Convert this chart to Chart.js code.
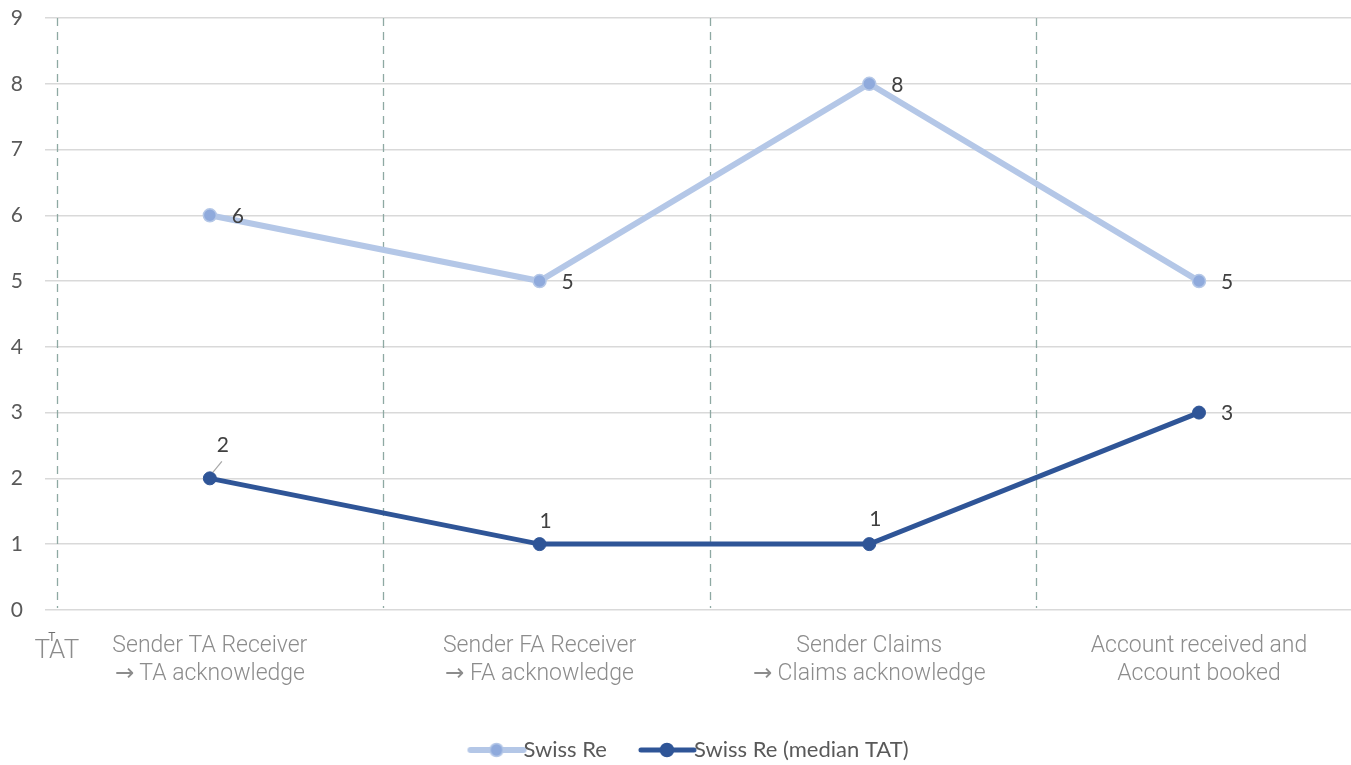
<!DOCTYPE html>
<html>
<head>
<meta charset="utf-8">
<script src="https://cdn.jsdelivr.net/npm/chart.js@4/dist/chart.umd.min.js"></script>
<style>
  @font-face { font-family: "ArrowFace"; src: local("DejaVu Sans"); unicode-range: U+2192; }
  html, body { margin: 0; padding: 0; background: #ffffff; }
  #wrap { width: 1351px; height: 765px; position: relative; }
</style>
</head>
<body>
<div id="wrap"><canvas id="c" width="1351" height="765"></canvas></div>
<script>
// ---- data ----
const categories = [
  ["Sender TA Receiver", "\u2192 TA acknowledge"],
  ["Sender FA Receiver", "\u2192 FA acknowledge"],
  ["Sender Claims", "\u2192 Claims acknowledge"],
  ["Account received and", "Account booked"]
];
const swissRe = [6, 5, 8, 5];
const swissReMedian = [2, 1, 1, 3];
const seriesNames = ["Swiss Re", "Swiss Re (median TAT)"];
const yTicks = [0, 1, 2, 3, 4, 5, 6, 7, 8, 9];
const dividerPositions = [-0.464, 0.525, 1.517, 2.506];
const cornerLabel = "TAT";

// ---- style ----
const lightLine = "#b4c7e7", lightPoint = "#8faadc";
const darkLine = "#2f5597";
const labelOffsets = [
  [[22, 0], [22, 0], [22, 0], [22, 0]],
  [[13, -34], [6, -24], [6, -26], [22, 0]]
];
const legendShift = { x: 11, y: 1 };

function legendIcon(lineColor, pointColor, borderColor, lw) {
  const c = document.createElement("canvas");
  c.width = 80; c.height = 16;
  const ctx = c.getContext("2d");
  ctx.strokeStyle = lineColor; ctx.lineWidth = lw; ctx.lineCap = "round";
  ctx.beginPath(); ctx.moveTo(22, 8); ctx.lineTo(75, 8); ctx.stroke();
  ctx.beginPath(); ctx.arc(48, 8, 6.5, 0, Math.PI * 2);
  ctx.fillStyle = pointColor; ctx.fill();
  ctx.lineWidth = 1.5; ctx.strokeStyle = borderColor; ctx.stroke();
  return c;
}

const decorPlugin = {
  id: "decor",
  afterLayout(chart) {
    const lg = chart.legend;
    if (lg) {
      lg.left += legendShift.x; lg.right += legendShift.x;
      lg.top += legendShift.y; lg.bottom += legendShift.y;
    }
  },
  beforeDatasetsDraw(chart) {
    const {ctx, chartArea, scales} = chart;
    ctx.save();
    ctx.strokeStyle = "#8ea9a3";
    ctx.lineWidth = 1.3;
    ctx.setLineDash([8, 6]);
    dividerPositions.forEach(v => {
      const x = Math.round(scales.x.getPixelForValue(v)) + 0.5;
      ctx.beginPath(); ctx.moveTo(x, chartArea.top); ctx.lineTo(x, chartArea.bottom - 2); ctx.stroke();
    });
    ctx.restore();
  },
  afterDatasetsDraw(chart) {
    const {ctx, scales} = chart;
    ctx.save();
    ctx.font = "21px Lato";
    ctx.fillStyle = "#404040";
    ctx.textBaseline = "middle";
    chart.data.datasets.forEach((ds, di) => {
      const meta = chart.getDatasetMeta(di);
      meta.data.forEach((pt, i) => {
        const [dx, dy] = labelOffsets[di][i];
        const tx = pt.x + dx, ty = pt.y + dy;
        ctx.textAlign = dx >= 20 && dy === 0 ? "left" : "center";
        ctx.fillText(String(ds.data[i].y), tx, ty + 1);
        if (Math.hypot(dx, dy) > 30) {
          ctx.strokeStyle = "#a6a6a6"; ctx.lineWidth = 1.2;
          ctx.beginPath(); ctx.moveTo(pt.x + 3, pt.y - 6); ctx.lineTo(tx - 1, ty + 17); ctx.stroke();
        }
      });
    });
    // corner label
    const x0 = scales.x.getPixelForValue(dividerPositions[0]);
    ctx.textAlign = "center";
    ctx.textBaseline = "alphabetic";
    ctx.fillStyle = "#8c8c8c";
    ctx.font = "300 26px Roboto";
    ctx.fillText(cornerLabel, x0, 658);
    ctx.fillStyle = "#6e6e6e";
    ctx.font = "12px Roboto";
    ctx.fillText(cornerLabel.charAt(0), x0 - 5, 641);
    ctx.restore();
  }
};

function build() {
  const icons = [legendIcon(lightLine, lightPoint, lightLine, 6), legendIcon(darkLine, darkLine, darkLine, 5)];
  new Chart(document.getElementById("c"), {
    type: "line",
    data: {
      datasets: [
        {
          label: seriesNames[0],
          data: swissRe.map((v, i) => ({x: i, y: v})),
          borderColor: lightLine, borderWidth: 6,
          pointBackgroundColor: lightPoint, pointBorderColor: lightLine,
          pointBorderWidth: 1.5, pointRadius: 6.5, pointHoverRadius: 6.5,
          tension: 0
        },
        {
          label: seriesNames[1],
          data: swissReMedian.map((v, i) => ({x: i, y: v})),
          borderColor: darkLine, borderWidth: 5,
          pointBackgroundColor: darkLine, pointBorderColor: darkLine,
          pointBorderWidth: 1, pointRadius: 6.5, pointHoverRadius: 6.5,
          tension: 0
        }
      ]
    },
    options: {
      responsive: false,
      animation: false,
      events: [],
      layout: { autoPadding: false, padding: { left: 0, right: 0, top: 18, bottom: -5 } },
      plugins: {
        tooltip: { enabled: false },
        legend: {
          position: "bottom",
          labels: {
            usePointStyle: true,
            pointStyleWidth: 48,
            padding: 28,
            color: "#595959",
            font: { family: "Lato", size: 22 },
            generateLabels(chart) {
              return chart.data.datasets.map((ds, i) => ({
                text: ds.label, pointStyle: icons[i], datasetIndex: i,
                fontColor: "#595959", lineWidth: 0, strokeStyle: "transparent", fillStyle: "transparent"
              }));
            }
          }
        }
      },
      scales: {
        x: {
          type: "linear",
          min: -0.5,
          max: 3.461,
          afterBuildTicks(scale) { scale.ticks = categories.map((_, i) => ({value: i})); },
          afterFit(scale) { scale.paddingLeft = 0; scale.paddingRight = 0; },
          grid: { display: false, drawTicks: false },
          border: { display: false },
          ticks: {
            autoSkip: false,
            maxRotation: 0,
            padding: 22,
            color: "#8c8c8c",
            font: { family: "ArrowFace, Roboto", size: 23, weight: 300, lineHeight: 1.22 },
            callback: (v) => categories[v] || ""
          }
        },
        y: {
          min: 0, max: 9,
          afterBuildTicks(scale) { scale.ticks = yTicks.map(v => ({value: v})); },
          afterFit(scale) { scale.width = 45; scale.paddingTop = 0; scale.paddingBottom = 0; },
          grid: { color: "#d9d9d9", lineWidth: 1.5, drawTicks: false },
          border: { display: false },
          ticks: {
            padding: 22,
            color: "#595959",
            font: { family: "Lato", size: 21 }
          }
        }
      }
    },
    plugins: [decorPlugin]
  });
}

Promise.all([
  document.fonts.load('300 23px ArrowFace', '\u2192'),
  document.fonts.load('300 23px Roboto'),
  document.fonts.load('22px Lato')
]).then(build, build);
</script>
</body>
</html>
